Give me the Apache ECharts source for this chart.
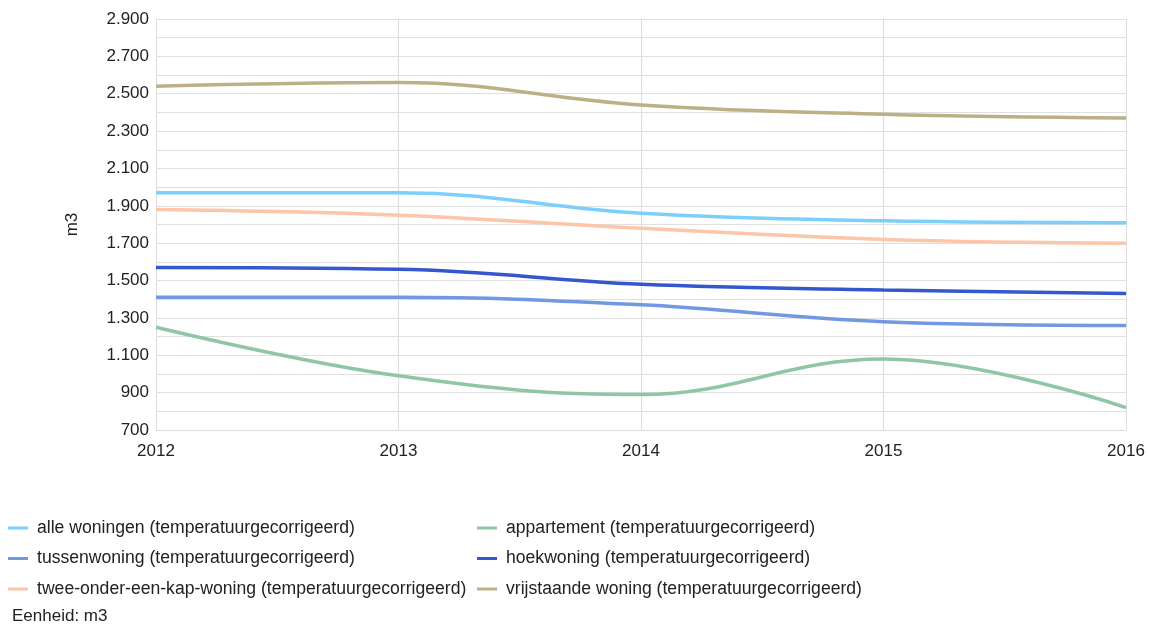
<!DOCTYPE html>
<html>
<head>
<meta charset="utf-8">
<script src="https://cdn.jsdelivr.net/npm/echarts@6/dist/echarts.min.js"></script>
<style>html,body{margin:0;padding:0;background:#fff;}#c{width:1149px;height:625px;}</style>
</head>
<body>
<div id="c"></div>
<script>
const years = ['2012', '2013', '2014', '2015', '2016'];
const seriesNames = [
  'alle woningen (temperatuurgecorrigeerd)',
  'appartement (temperatuurgecorrigeerd)',
  'tussenwoning (temperatuurgecorrigeerd)',
  'hoekwoning (temperatuurgecorrigeerd)',
  'twee-onder-een-kap-woning (temperatuurgecorrigeerd)',
  'vrijstaande woning (temperatuurgecorrigeerd)'
];
const alleWoningen = [1970, 1970, 1860, 1820, 1810];
const appartement = [1250, 990, 890, 1080, 820];
const tussenwoning = [1410, 1410, 1370, 1280, 1260];
const hoekwoning = [1570, 1560, 1480, 1450, 1430];
const tweeOnder = [1880, 1850, 1780, 1720, 1700];
const vrijstaande = [2540, 2560, 2440, 2390, 2370];
const yTickLabels = [700, 900, 1100, 1300, 1500, 1700, 1900, 2100, 2300, 2500, 2700, 2900];

const colors = ['#7bcffc', '#8fc7a6', '#7199e2', '#3458cc', '#fdc6aa', '#bcb087'];
const values = [alleWoningen, appartement, tussenwoning, hoekwoning, tweeOnder, vrijstaande];

function fmt(v) {
  return String(v).replace(/\B(?=(\d{3})+(?!\d))/g, '.');
}

const FONT = 'Liberation Sans, Arial, sans-serif';
const chart = echarts.init(document.getElementById('c'));
const legendText = { fontFamily: FONT, fontSize: 17.6, lineHeight: 18, color: '#222', padding: [0, 0, 0, 4] };
chart.setOption({
  animation: false,
  color: colors,
  textStyle: { fontFamily: FONT },
  grid: { left: 156, right: 23, top: 19, bottom: 195, containLabel: false },
  legend: [
    {
      left: 8, top: 519, orient: 'vertical', itemGap: 12.5, padding: 0,
      icon: 'rect', itemWidth: 20, itemHeight: 3,
      textStyle: legendText,
      data: [seriesNames[0], seriesNames[2], seriesNames[4]]
    },
    {
      left: 477, top: 519, orient: 'vertical', itemGap: 12.5, padding: 0,
      icon: 'rect', itemWidth: 20, itemHeight: 3,
      textStyle: legendText,
      data: [seriesNames[1], seriesNames[3], seriesNames[5]]
    }
  ],
  graphic: [{
    type: 'text', left: 12, top: 608,
    style: { text: 'Eenheid: m3', font: '17px Liberation Sans, Arial, sans-serif', fill: '#222' }
  }],
  xAxis: {
    type: 'category', data: years, boundaryGap: false,
    axisLine: { show: true, lineStyle: { color: '#dcdcdc' } },
    axisTick: { show: false },
    axisLabel: { color: '#222', fontSize: 17, margin: 13 },
    splitLine: { show: true, lineStyle: { color: '#dcdcdc', width: 1 } }
  },
  yAxis: {
    type: 'value', min: 700, max: 2900, interval: 100,
    name: 'm3', nameLocation: 'middle', nameGap: 75, nameRotate: 90,
    nameTextStyle: { color: '#222', fontSize: 17 },
    axisLine: { show: false },
    axisTick: { show: false },
    axisLabel: {
      color: '#222', fontSize: 17, margin: 7,
      formatter: function (v) { return yTickLabels.indexOf(v) >= 0 ? fmt(v) : ''; }
    },
    splitLine: { show: true, lineStyle: { color: '#e0e0e0', width: 1 } }
  },
  series: seriesNames.map(function (n, i) {
    return {
      name: n, type: 'line', data: values[i], smooth: 0.4,
      symbol: 'none', lineStyle: { width: 3.5, color: colors[i] },
      z: 10 - i
    };
  })
});
</script>
</body>
</html>
